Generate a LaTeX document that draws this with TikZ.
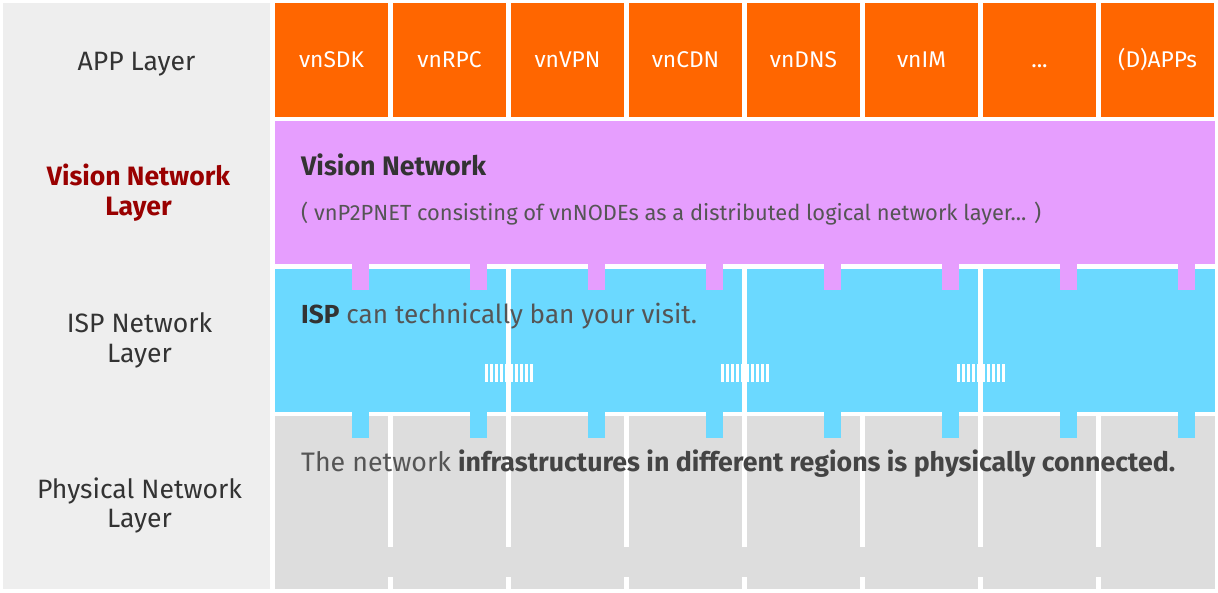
\documentclass[tikz,border=0pt]{standalone}
\usepackage{graphicx}
\usepackage{fontspec}
\setmainfont{Fira Sans}
\definecolor{appor}{HTML}{FF6600}
\definecolor{vnpur}{HTML}{E69EFE}
\definecolor{ispcy}{HTML}{6BD9FF}
\definecolor{phygr}{HTML}{DDDDDD}
\definecolor{sidegr}{HTML}{EEEEEE}
\definecolor{txtdark}{HTML}{333333}
\definecolor{txtmid}{HTML}{555555}
\definecolor{txtbold}{HTML}{444444}
\definecolor{vnred}{HTML}{990000}
\newlength\fitlen
\newcommand\fitsize[3]{\settowidth\fitlen{\fontsize{11pt}{13pt}\selectfont #3}\pgfmathsetmacro#1{11*#2/\fitlen}}
\newcommand\appdots{...}
\begin{document}
\fitsize{\sidesz}{205}{Physical Network}%
\fitsize{\appsz}{65}{vnSDK}%
\fitsize{\titlesz}{185}{\bfseries Vision Network}%
\fitsize{\subsz}{740}{( vnP2PNET consisting of vnNODEs as a distributed logical network layer... )}%
\fitsize{\ispsz}{396}{\textbf{ISP} can technically ban your visit.}%
\fitsize{\physz}{874}{The network \textbf{infrastructures in different regions is physically connected.}}%
\begin{tikzpicture}[x=1pt,y=-1pt,
  side/.style={text=txtdark, anchor=base, inner sep=0pt, font=\fontsize{\sidesz pt}{30pt}\selectfont},
  sidered/.style={text=vnred, anchor=base, inner sep=0pt, font=\fontsize{\sidesz pt}{30pt}\selectfont\bfseries},
  appbox/.style={fill=appor, text=white, minimum width=113pt, minimum height=114pt, inner sep=0pt,
    text height=15pt, text depth=0pt, font=\fontsize{\appsz pt}{24pt}\selectfont},
  body/.style={anchor=base west, inner sep=0pt, text=txtmid},
  gridline/.style={white, line width=4.5pt},
  stripes/.style={white, line width=18pt, dash pattern=on 2.5pt off 2.5pt}
]
\useasboundingbox (0,0) rectangle (1218,592);
\fill[white] (0,0) rectangle (1218,592);
% left column
\fill[sidegr] (3,3) rectangle (270,589);
\node[side] (lapp) at (136.5,70) {APP Layer};
\node[sidered] (lvn1) at (138.5,185) {Vision Network};
\node[sidered] (lvn2) at (138.5,215) {Layer};
\node[side] (lisp1) at (139.5,332) {ISP Network};
\node[side] (lisp2) at (139.5,362) {Layer};
\node[side] (lphy1) at (139.5,498) {Physical Network};
\node[side] (lphy2) at (139.5,527.5) {Layer};

% physical layer
\fill[phygr] (275,416) rectangle (1215,589);
\foreach \k in {0,...,6}{
  \draw[gridline] ({390.5+118*\k},416) -- ({390.5+118*\k},547);
  \draw[gridline] ({390.5+118*\k},577) -- ({390.5+118*\k},589);
}
% ISP layer
\foreach \b in {0,...,3}{
  \fill[ispcy] ({275+236*\b},269) rectangle ({275+236*\b+231},412);
}
\fill[ispcy] (1210,269) rectangle (1215,412);
\foreach \k in {0,1,2}{
  \draw[stripes] ({485+236*\k},373) -- ({533.5+236*\k},373);
}
\foreach \i in {0,...,7}{
  \fill[ispcy] ({352+118*\i},411) rectangle ({369+118*\i},438);
}
% Vision network layer
\fill[vnpur] (275,121) rectangle (1215,264);
\foreach \i in {0,...,7}{
  \fill[vnpur] ({352+118*\i},263) rectangle ({369+118*\i},290);
}
% APP layer
\foreach \i/\t in {0/vnSDK,1/vnRPC,2/vnVPN,3/vnCDN,4/vnDNS,5/vnIM,6/\appdots,7/(D)APPs}{
  \node[appbox] (app\i) at ({331.5+118*\i},60) {\t};
}

% texts
\node[body, text=txtdark, font=\fontsize{\titlesz pt}{30pt}\selectfont\bfseries] (vntitle) at (301,175) {Vision Network};
\node[body, font=\fontsize{\subsz pt}{24pt}\selectfont] (vnsub) at (301,220) {( vnP2PNET consisting of vnNODEs as a distributed logical network layer... )};
\node[body, font=\fontsize{\ispsz pt}{30pt}\selectfont] (isptext) at (301,323) {\textcolor{txtdark}{\bfseries ISP} can technically ban your visit.};
\node[body, font=\fontsize{\physz pt}{30pt}\selectfont] (phytext) at (301,471) {The network \textcolor{txtbold}{\bfseries infrastructures in different regions is physically connected.}};
\end{tikzpicture}
\end{document}
